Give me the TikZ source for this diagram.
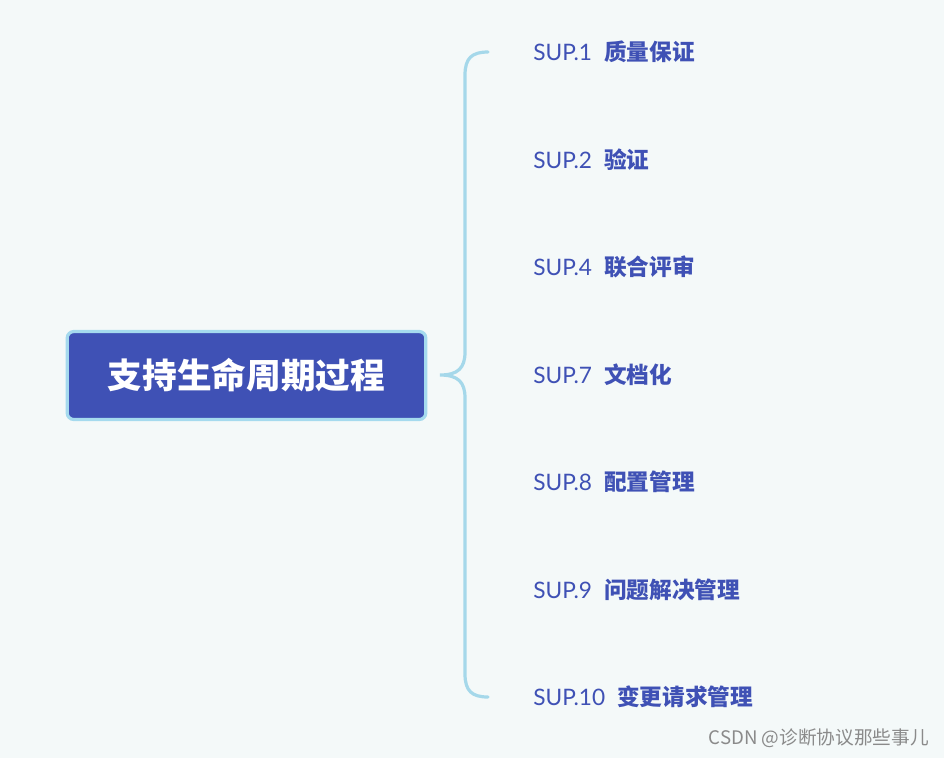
\documentclass[tikz,border=0pt]{standalone}
\usepackage{fontspec}
\setmainfont{Lato}
\newfontfamily\cjk{Noto Sans CJK SC}
\newfontfamily\lat{Lato}
\definecolor{bg}{HTML}{F4F9F9}
\definecolor{rootfill}{HTML}{3F51B5}
\definecolor{rootline}{HTML}{A5DAEE}
\definecolor{bracec}{HTML}{A5D8EA}
\definecolor{labc}{HTML}{3F51B5}
\definecolor{wm}{HTML}{8A8A8A}
\tikzset{
  rootbox/.style={draw=rootline, line width=2.4pt, fill=rootfill, rounded corners=5pt,
    minimum width=269pt, minimum height=66pt, inner sep=0pt, text=white,
    font=\cjk\bfseries\fontsize{26}{30}\selectfont},
  leaf/.style={anchor=west, inner sep=0pt, text=labc, font=\fontsize{17}{20}\selectfont},
  bracel/.style={draw=bracec, line width=2.4pt, line cap=round},
}
\newcommand{\leaftxt}[2]{{\lat #1}\hspace{9pt}{\cjk\bfseries #2}}
\begin{document}
\begin{tikzpicture}[x=0.75pt,y=-0.75pt]
\fill[bg] (0,0) rectangle (944,758);
\useasboundingbox (0,0) rectangle (944,758);
\node[rootbox] (root) at (246.5,375.5) {支持生命周期过程};
\node[leaf] (s1) at (533,52) {\leaftxt{SUP.1}{质量保证}};
\node[leaf] (s2) at (533,160) {\leaftxt{SUP.2}{验证}};
\node[leaf] (s4) at (533,267) {\leaftxt{SUP.4}{联合评审}};
\node[leaf] (s7) at (533,375) {\leaftxt{SUP.7}{文档化}};
\node[leaf] (s8) at (533,482) {\leaftxt{SUP.8}{配置管理}};
\node[leaf] (s9) at (533,590) {\leaftxt{SUP.9}{问题解决管理}};
\node[leaf] (s10) at (533,697) {\leaftxt{SUP.10}{变更请求管理}};
\coordinate (bt) at (488,52);
\coordinate (bb) at (488,697);
\coordinate (bm) at (440,375);
\draw[bracel] (bt) .. controls (472,52) and (465,58) .. (465,75)
  -- (465,352) .. controls (465,368) and (458,375) .. (bm)
  .. controls (458,375) and (465,382) .. (465,398)
  -- (465,674) .. controls (465,691) and (472,697) .. (bb);
\node[anchor=east, inner sep=0pt, text=wm, font=\cjk\fontsize{14}{17}\selectfont] (wmk) at (929,738) {CSDN @诊断协议那些事儿};
\end{tikzpicture}
\end{document}
